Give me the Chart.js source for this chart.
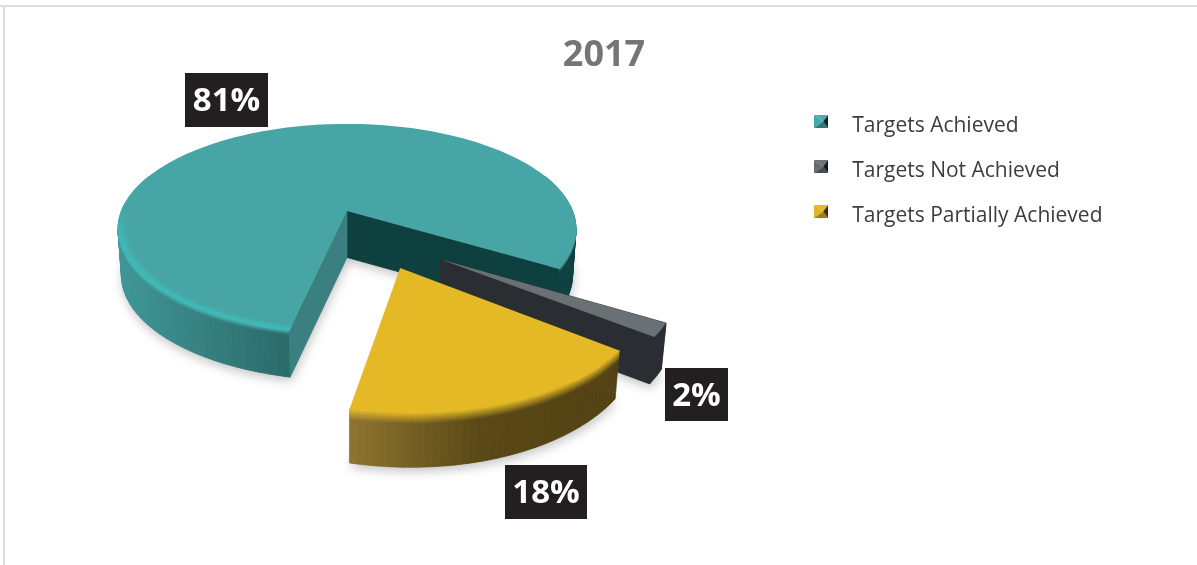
<!DOCTYPE html>
<html><head><meta charset="utf-8">
<style>html,body{margin:0;padding:0;background:#fff;overflow:hidden}canvas{display:block}</style>
<script src="https://cdn.jsdelivr.net/npm/chart.js@4"></script>
</head><body>
<canvas id="c" width="1197" height="565"></canvas>
<script>
const chartTitle = '2017';
const categories = ['Targets Achieved', 'Targets Not Achieved', 'Targets Partially Achieved'];
const shares = [81, 2, 18];
const topColors = ['#47a5a5', '#697175', '#e4b925'];

const FONT = '"Open Sans", sans-serif';
const view = {cx: 347, cy: 211, A: 225.6, a: 102, q: 0.171};
const styles = [
  {shift:[0,0], r:1, inset:0.04, wallStart:'#3b8080', wallEnd:'#0f4040',
   side:[[118,'#409797'],[290,'#2a6a68'],[540,'#0f4040'],[580,'#0f4040']],
   bevel:[[118,'#42b8b6'],[300,'#42b8b6'],[530,'#47a5a5'],[580,'#47a5a5']], bevelPx:5},
  {shift:[0.385,0.44], r:0.94, inset:0, wallStart:'#2a2e33', wallEnd:'#2a2e33',
   side:[[400,'#2a2e33'],[700,'#2a2e33']],
   bevel:[[400,'#697175'],[700,'#697175']], bevelPx:10},
  {shift:[0.215,0.51], r:0.97, inset:0, wallStart:null, wallEnd:null,
   side:[[347,'#8f7530'],[480,'#5a4816'],[620,'#524213']],
   bevel:[[347,'#e4b925'],[620,'#e4b925']], bevelPx:11}
];
const boxes = [
  {x:185,y:73,w:83,h:54},
  {x:665,y:368,w:63,h:53},
  {x:505,y:465,w:82,h:54}
];

function hex(c){return [1,3,5].map(i=>parseInt(c.substr(i,2),16));}
function mix(a,b,t){const A=hex(a),B=hex(b);return 'rgb('+A.map((v,i)=>Math.round(v+(B[i]-v)*t)).join(',')+')';}
function toHex(rgb){const m=rgb.match(/\d+/g).map(Number);return '#'+m.map(v=>v.toString(16).padStart(2,'0')).join('');}
function ramp(stops,x){
  if(x<=stops[0][0])return stops[0][1];
  for(let i=1;i<stops.length;i++){
    if(x<=stops[i][0]){const t=(x-stops[i-1][0])/(stops[i][0]-stops[i-1][0]);return toHex(mix(stops[i-1][1],stops[i][1],t));}
  }
  return stops[stops.length-1][1];
}
function project(u,v){const d=1-view.q*v;return [view.cx+view.A*u/d,view.cy+view.a*v/d];}
function depth(v){return 46.5+Math.max(0,v-1)*16;}
function down(p,v,h){const D=depth(v);const f=h/D;return [view.cx+(p[0]-view.cx)*(1-0.015*f),p[1]+h];}
function poly(ctx,pts){ctx.beginPath();pts.forEach((p,i)=>i?ctx.lineTo(p[0],p[1]):ctx.moveTo(p[0],p[1]));ctx.closePath();}

const pie3d = {
  id:'pie3d',
  beforeDraw(chart){
    const c=chart.ctx;c.save();c.fillStyle='#fff';c.fillRect(0,0,chart.width,chart.height);
    c.fillStyle='#dedede';c.fillRect(0,5,chart.width,2);c.fillRect(3,5,2,chart.height-5);c.restore();
  },
  beforeDatasetsDraw(chart){
    const ctx=chart.ctx, arcs=chart.getDatasetMeta(0).data;
    arcs.forEach((arc,i)=>drawSlice(ctx,arc,styles[i],topColors[i]));
    ctx.save();
    ctx.textAlign='center';ctx.textBaseline='middle';ctx.font='bold 33px '+FONT;
    shares.forEach((s,i)=>{const b=boxes[i];
      ctx.fillStyle='#231f20';ctx.fillRect(b.x,b.y,b.w,b.h);
      ctx.fillStyle='#fff';ctx.fillText(s+'%',b.x+b.w/2,b.y+b.h/2+2);});
    ctx.restore();
    return false;
  }
};
function drawSlice(ctx,arc,st,top){
  const {startAngle,endAngle}=arc.getProps(['startAngle','endAngle'],true);
  const n=Math.max(3,Math.ceil((endAngle-startAngle)/(Math.PI/120)));
  const rim=[];
  for(let k=0;k<=n;k++){
    const t=startAngle+(endAngle-startAngle)*k/n;
    const u=st.r*Math.cos(t)+st.shift[0], v=st.r*Math.sin(t)+st.shift[1];
    const ui=st.r*(1-st.inset)*Math.cos(t)+st.shift[0], vi=st.r*(1-st.inset)*Math.sin(t)+st.shift[1];
    rim.push({p:project(u,v),v,inner:project(ui,vi),s:Math.sin(t)});
  }
  const apexV=st.shift[1], apex=project(st.shift[0],apexV);
  ctx.save();
  ctx.save();
  ctx.shadowColor='rgba(0,0,0,0.24)';ctx.shadowBlur=11;ctx.shadowOffsetY=4;ctx.shadowOffsetX=1;
  ctx.fillStyle='#888';
  poly(ctx,[down(apex,apexV,depth(apexV))].concat(rim.map(r=>down(r.p,r.v,depth(r.v)))));ctx.fill();
  ctx.restore();
  ctx.lineWidth=0.7;
  for(let k=0;k<n;k++){
    const a=rim[k],b=rim[k+1];
    if(a.v<-0.35&&b.v<-0.35)continue;
    const mx=(a.p[0]+b.p[0])/2, side=ramp(st.side,mx), bev=ramp(st.bevel,mx);
    const dA=depth(a.v), dB=depth(b.v);
    for(let h=0;h<st.bevelPx;h++){
      const col=mix(bev,side,Math.min(1,(h+0.5)/st.bevelPx));
      const q=[down(a.p,a.v,h),down(b.p,b.v,h),down(b.p,b.v,h+1),down(a.p,a.v,h+1)];
      ctx.fillStyle=ctx.strokeStyle=col;poly(ctx,q);ctx.fill();ctx.stroke();
    }
    const q=[down(a.p,a.v,st.bevelPx),down(b.p,b.v,st.bevelPx),down(b.p,b.v,dB),down(a.p,a.v,dA)];
    ctx.fillStyle=ctx.strokeStyle=side;poly(ctx,q);ctx.fill();ctx.stroke();
  }
  const first=rim[0], last=rim[n];
  if(st.wallEnd){
    ctx.fillStyle=ctx.strokeStyle=st.wallEnd;
    poly(ctx,[apex,last.p,down(last.p,last.v,depth(last.v)),down(apex,apexV,depth(apexV))]);ctx.fill();ctx.stroke();
  }
  if(st.wallStart){
    ctx.fillStyle=ctx.strokeStyle=st.wallStart;
    poly(ctx,[apex,first.p,down(first.p,first.v,depth(first.v)),down(apex,apexV,depth(apexV))]);ctx.fill();ctx.stroke();
  }
  ctx.fillStyle=top;
  poly(ctx,[apex].concat(rim.map(r=>r.p)));ctx.fill();
  if(st.inset>0){
    for(let k=0;k<n;k++){
      const a=rim[k],b=rim[k+1];
      const f=Math.min(1,Math.max(0,((a.s+b.s)/2+0.05)/0.3));
      if(f<=0)continue;
      const mx=(a.p[0]+b.p[0])/2, bev=ramp(st.bevel,mx);
      const bands=4;
      for(let j=0;j<bands;j++){
        const g0=j/bands,g1=(j+1)/bands;
        const lerp=(P,Q,t)=>[P[0]+(Q[0]-P[0])*t,P[1]+(Q[1]-P[1])*t];
        const col=mix(top,toHex(mix(top,bev,f)),Math.min(1,(j+0.5)/bands*1.6));
        ctx.fillStyle=ctx.strokeStyle=col;
        poly(ctx,[lerp(a.inner,a.p,g0),lerp(b.inner,b.p,g0),lerp(b.inner,b.p,g1),lerp(a.inner,a.p,g1)]);ctx.fill();ctx.stroke();
      }
    }
  }
  ctx.restore();
}

function legendIcon(col,dark){
  // the canvas is taller than the glyph so that the glyph sits above the text's middle
  const s=document.createElement('canvas');s.width=14;s.height=22;
  const x=s.getContext('2d');const w=14,h=13,mx=9,my=6.5;
  const tri=(a,b,c)=>{x.fillStyle=c;x.beginPath();x.moveTo(a[0],a[1]);x.lineTo(b[0],b[1]);x.lineTo(mx,my);x.closePath();x.fill();};
  tri([0,0],[w,0],mix(col,'#ffffff',0.05));
  tri([0,0],[0,h],col);
  tri([0,h],[w,h],mix(col,'#000000',0.3));
  tri([w,0],[w,h],dark);
  return s;
}
const icons=[legendIcon('#42aaaa','#0a2222'),legendIcon('#666c70','#15171a'),legendIcon('#e0b525','#3a2f0c')];

new Chart(document.getElementById('c'),{
  type:'pie',
  data:{labels:categories,datasets:[{data:shares,backgroundColor:topColors,borderWidth:0}]},
  plugins:[pie3d],
  options:{
    responsive:false,animation:false,events:[],rotation:192.3,
    layout:{padding:{left:95.5,right:84.5,top:27,bottom:10}},
    plugins:{
      tooltip:{enabled:false},
      title:{display:true,text:chartTitle,color:'#757575',font:{family:FONT,size:36,weight:'bold',lineHeight:1.2},padding:{top:7.4,bottom:13.9}},
      legend:{display:true,position:'right',align:'start',fullSize:false,
        labels:{usePointStyle:true,pointStyleWidth:41,boxHeight:13,padding:24,color:'#3d3d3d',font:{family:FONT,size:21},
          generateLabels(chart){
            return Chart.overrides.doughnut.plugins.legend.labels.generateLabels(chart).map((l,i)=>Object.assign(l,{pointStyle:icons[i]}));
          }}}
    }
  }
});
</script>
</body></html>
